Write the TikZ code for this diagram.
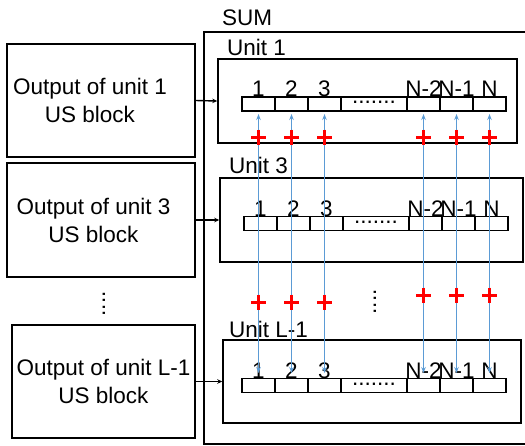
\documentclass[tikz,border=0pt]{standalone}
\usepackage{fontspec}
\setmainfont{Liberation Sans}
\usetikzlibrary{positioning,arrows.meta}
\definecolor{linkblue}{RGB}{91,155,213}
\begin{document}
\begin{tikzpicture}[x=1pt, y=-1pt, font=\fontsize{22.5}{28}\selectfont]
  \tikzstyle{outbox} = [rectangle, draw, line width=1.5pt, align=center, inner sep=0pt]
  \tikzstyle{unitbox} = [rectangle, draw, line width=1.5pt, minimum width=299pt, minimum height=84pt, inner sep=0pt]
  \tikzstyle{cell} = [rectangle, draw, line width=1.3pt, minimum width=33pt, minimum height=14pt, inner sep=0pt, outer sep=0pt]
  \tikzstyle{num} = [anchor=base, inner sep=0pt]
  \tikzstyle{arrow} = [line width=1.4pt, -{Stealth[length=5pt, width=4.5pt]}]
  \tikzstyle{link} = [linkblue, line width=1.6pt, {Stealth[length=6pt, width=4.5pt]}-{Stealth[length=6pt, width=4.5pt]}]
  \tikzset{plus/.pic={\draw[red, line width=3pt] (-7.5,0) -- (7.5,0) (0,-7.5) -- (0,7.5);}}

  \useasboundingbox (0,0) rectangle (525,445);

  % Outputs of the US blocks
  \node (out1) [outbox, minimum width=188pt, minimum height=113pt] at (101,100.5) {Output of unit 1\hspace*{22pt}\\US block\hspace*{22pt}};
  \node (out3) [outbox, minimum width=188pt, minimum height=114pt] at (101,220) {Output of unit 3\hspace*{15pt}\\US block\hspace*{15pt}};
  \node (outL) [outbox, minimum width=183pt, minimum height=113pt] at (103.5,381.5) {Output of unit L-1\\US block};
  \node (vdots) [rotate=90, inner sep=0pt] at (104,304) {....};

  % SUM frame
  \draw[line width=1.6pt] (526,32) -- (204,32) -- (204,444) -- (526,444);
  \node (sum) [anchor=base west, inner sep=0pt] at (222,25) {SUM};

  % Units
  \node (unit1) [unitbox] at (367.5,101) {};
  \node (unit3) [unitbox, minimum width=303pt] at (371.5,220) {};
  \node (unitL) [unitbox, minimum width=298pt, minimum height=83pt] at (372,381.5) {};
  \node (lab1) [anchor=base west, inner sep=0pt] at (227,55) {Unit 1};
  \node (lab3) [anchor=base west, inner sep=0pt] at (229,173) {Unit 3};
  \node (labL) [anchor=base west, inner sep=0pt] at (229,337) {Unit L-1};

  % Registers
  \foreach \u/\x/\y in {1/242/104, 3/244/223.5, L/242/385.5} {
    \node (u\u c1) [cell, anchor=west] at (\x,\y) {};
    \node (u\u c2) [cell, right=0pt of u\u c1] {};
    \node (u\u c3) [cell, right=0pt of u\u c2] {};
    \node (u\u cd) [cell, minimum width=66pt, right=0pt of u\u c3] {\raisebox{3pt}{.......}};
    \node (u\u cN2) [cell, right=0pt of u\u cd] {};
    \node (u\u cN1) [cell, right=0pt of u\u cN2] {};
    \node (u\u cN) [cell, right=0pt of u\u cN1] {};
    \foreach \k/\t in {1/1, 2/2, 3/3, N2/N-2, N1/N-1, N/N}
      \node (u\u n\k) [num] at ([yshift=0.5pt]u\u c\k.north) {\t};
  }

  % Inputs into the units
  \draw[arrow] (out1.east) -- (unit1.west);
  \draw[arrow] (out3.east) -- (unit3.west);
  \draw[arrow] (outL.east) -- (unitL.west);

  % Summing lines
  \foreach \k in {1,2,3,N2,N1,N}
    \draw[link, shorten <=3pt, shorten >=5.5pt] (u1c\k.south) -- (uLc\k.north);
  \foreach \k in {1,2,3,N2,N1,N}
    \pic (pa\k) at (u1c\k |- 0,137) {plus};
  \foreach \k in {1,2,3}
    \pic (pb\k) at (u1c\k |- 0,302) {plus};
  \foreach \k in {N2,N1,N}
    \pic (pb\k) at (u1c\k |- 0,295) {plus};
  \node (hdots) [rotate=90, inner sep=0pt] at (375,302) {....};

\end{tikzpicture}
\end{document}
